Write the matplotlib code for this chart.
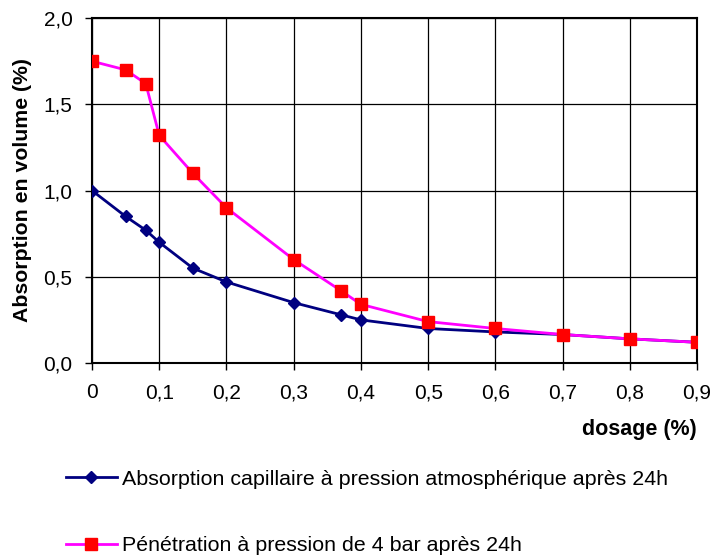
import matplotlib.pyplot as plt
from matplotlib.ticker import FuncFormatter

plt.rcParams['font.family'] = ['Liberation Sans', 'DejaVu Sans']

# data
dosage = [0, 0.05, 0.08, 0.1, 0.15, 0.2, 0.3, 0.37, 0.4, 0.5, 0.6, 0.7, 0.8, 0.9]
absorption = [1.0, 0.85, 0.77, 0.70, 0.55, 0.47, 0.35, 0.28, 0.25, 0.20, 0.18, 0.165, 0.14, 0.12]
penetration = [1.75, 1.70, 1.62, 1.32, 1.10, 0.90, 0.60, 0.42, 0.34, 0.24, 0.20, 0.165, 0.14, 0.12]
label_abs = "Absorption capillaire à pression atmosphérique après 24h"
label_pen = "Pénétration à pression de 4 bar après 24h"

fig = plt.figure(figsize=(7.16, 5.58), dpi=100)
ax = fig.add_axes([0.1285, 0.3495, 0.845, 0.618])

l1, = ax.plot(dosage, absorption, color='#000080', lw=2, marker='D', ms=6,
              mfc='#000080', mec='#000080', label=label_abs, zorder=3)
l2, = ax.plot(dosage, penetration, color='#ff00ff', lw=2, marker='s', ms=8.5,
              mfc='#ff0000', mec='#ff0000', label=label_pen, zorder=4)

ax.set_xlim(0, 0.9)
ax.set_ylim(0, 2.0)
ax.set_xticks([i / 10 for i in range(10)])
ax.set_yticks([0, 0.5, 1.0, 1.5, 2.0])


def fmt_x(v, pos):
    return '0' if abs(v) < 1e-9 else f'{v:.1f}'.replace('.', ',')


ax.xaxis.set_major_formatter(FuncFormatter(fmt_x))
ax.yaxis.set_major_formatter(FuncFormatter(lambda v, p: f'{v:.1f}'.replace('.', ',')))
ax.tick_params(labelsize=15, length=5, width=1, direction='out', colors='black')
ax.tick_params(axis='x', pad=9.5)
ax.tick_params(axis='y', pad=9)
ax.grid(True, color='black', lw=0.9)
for s in ax.spines.values():
    s.set_color('black')
    s.set_linewidth(1.5)

ax.set_ylabel('Absorption en volume (%)', fontsize=15.3, fontweight='bold')
ax.yaxis.set_label_coords(-0.099, 0.5)
fig.text(0.973, 0.231, 'dosage (%)', fontsize=15.5, fontweight='bold', ha='right', va='center')

fig.legend(handles=[l1, l2], loc='center left', bbox_to_anchor=(0.0915, 0.0815),
           frameon=False, fontsize=15.4, handlelength=2.42, handletextpad=0.23,
           labelspacing=2.22, borderpad=0, borderaxespad=0, numpoints=1)

fig.savefig('out.png', dpi=100)
